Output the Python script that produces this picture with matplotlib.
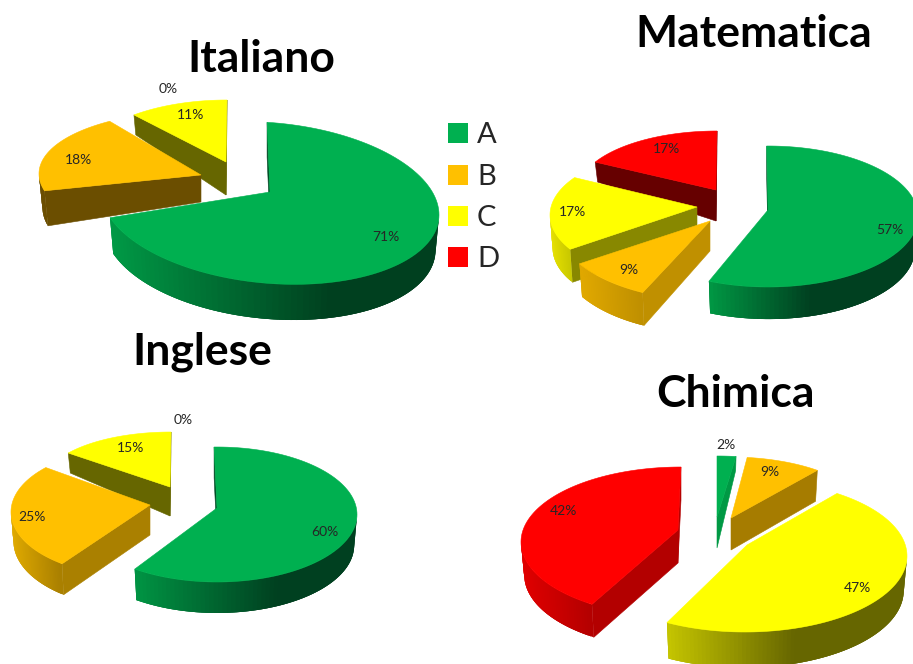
import numpy as np
import matplotlib
matplotlib.use("Agg")
import matplotlib.pyplot as plt
from matplotlib.patches import Polygon, Rectangle
from matplotlib.colors import to_rgb

categories = ["A", "B", "C", "D"]
italiano = [71, 18, 11, 0]
matematica = [57, 9, 17, 17]
inglese = [60, 25, 15, 0]
chimica = [2, 9, 47, 42]
titles = ["Italiano", "Matematica", "Inglese", "Chimica"]

colors = ["#00B050", "#FFC000", "#FFFF00", "#FF0000"]
TXT = "#262626"

# Projection style of each slice: ellipse (cx, cy, rx, ry, shear), apex, depths,
# angle tweaks, cut-face colour and wall gradient (x0, c0, x1, c1)
sty_it = {
    0: dict(e=(270, 203, 169, 80.5, .07), apex=(270, 192), d=(35, 36, 33), da=(-1, -4.4), face="#004D26", grad=(110, "#009A46", 333, "#00401F")),
    1: dict(e=(214, 179, 175, 68, .03), apex=(201, 175), d=(35, 30, 27), da=(0, 3), face="#6B4E00", grad=(40, "#6B4E00", 60, "#6B4E00")),
    2: dict(e=(227, 165, 146, 65, 0), apex=(226, 162), d=(20, 20, 33), face="#666600", grad=(134, "#666600", 140, "#666600")),
}
sty_ma = {
    0: dict(e=(768, 216.5, 150, 70.5, 0), apex=(768, 210), d=(33, 32, 30), da=(-0.5, -2), face="#004D26", grad=(709, "#009944", 813, "#004020")),
    1: dict(e=(707, 222, 151, 78, 0), apex=(710, 221), d=(33, 33, 30), face="#C09000", grad=(582, "#E0A800", 640, "#C09000")),
    2: dict(e=(680, 215, 130, 64, 0), apex=(697, 207), d=(33, 33, 33), da=(0, 7), face="#888800", grad=(550, "#E6E000", 571, "#C8C800")),
    3: dict(e=(717, 191, 139, 60, 0), apex=(716, 190), d=(20, 20, 31), face="#660000", grad=(595, "#660000", 600, "#660000")),
}
sty_in = {
    0: dict(e=(217, 514.5, 140, 67.5, 0), apex=(217, 508), d=(31, 31, 30), da=(-1.2, 0), face="#004D26", grad=(135, "#009544", 280, "#004020")),
    1: dict(e=(135, 512, 124, 64, 0), apex=(150, 505), d=(31, 28, 30), da=(0, 8), face="#AA8000", grad=(11, "#E0AA00", 60, "#AA8000")),
    2: dict(e=(171, 483, 127, 51, 0), apex=(170, 487), d=(20, 20, 29), face="#666600", grad=(68, "#666600", 80, "#666600")),
}
sty_ch = {
    0: dict(e=(717, 517, 152, 61, 0), apex=(717, 517), d=(14, 14, 31), face="#009944", grad=(717, "#009944", 736, "#009944")),
    1: dict(e=(730, 515, 137, 58, 0), apex=(731, 518), d=(31, 31, 32), face="#A67C00", grad=(730, "#A67C00", 817, "#A67C00")),
    2: dict(e=(745, 556, 162, 76, 0), apex=(747, 545), d=(34, 36, 34), da=(-5, 0), face="#666600", grad=(670, "#C4C400", 797, "#666600")),
    3: dict(e=(681, 542, 160, 75, 0), apex=(678, 530), d=(33, 33, 33), da=(5, 0), face="#B30000", grad=(523, "#E00000", 593, "#B30000")),
}

pies = [
    dict(vals=italiano, sty=sty_it, order=[2, 1, 0], title=(261, 59),
         labels=[(386, 237), (78, 160), (191, 115), (168, 89)]),
    dict(vals=matematica, sty=sty_ma, order=[3, 2, 1, 0], title=(754, 34),
         labels=[(890, 230), (629, 270), (572, 212), (666, 149)]),
    dict(vals=inglese, sty=sty_in, order=[2, 1, 0], title=(202, 352),
         labels=[(325, 532), (32, 517), (131, 448), (183, 420)]),
    dict(vals=chimica, sty=sty_ch, order=[0, 1, 3, 2], title=(735, 394),
         labels=[(726, 445), (770, 472), (857, 588), (563, 511)]),
]

BSCALE = 0.98
plt.rcParams["font.family"] = ["Lato", "DejaVu Sans"]
fig = plt.figure(figsize=(9.13, 6.64), dpi=100)
ax = fig.add_axes([0, 0, 1, 1])
ax.set_xlim(0, 913)
ax.set_ylim(664, 0)
ax.axis("off")


def poly(pts, color, z, lw=0.4):
    ax.add_patch(Polygon(pts, closed=True, facecolor=color, edgecolor=color if lw else "none",
                         linewidth=lw, zorder=z))


def draw_slice(v_start, v_end, color, s, z):
    cx, cy, rx, ry, sh = s["e"]
    da = s.get("da", (0, 0))
    t0 = np.radians(v_start * 3.6 + da[0])
    t1 = np.radians(v_end * 3.6 + da[1])
    ts = np.linspace(t0, t1, 120)
    x = cx + rx * np.sin(ts)
    y = cy - ry * np.cos(ts) + sh * rx * np.sin(ts)
    d = np.linspace(s["d"][0], s["d"][1], len(ts))
    xb = cx + (x - cx) * BSCALE
    yb = y + d
    ax0, ay0 = s["apex"]
    da_ = s["d"][2]
    mid = len(ts) // 2
    # cut faces, only where the face looks towards the viewer
    for i in (0, -1):
        ex, ey = x[i], y[i]
        dx = ex - ax0
        if abs(dx) < 1e-6:
            dx = 1e-6
        ly = ay0 + (ey - ay0) * (x[mid] - ax0) / dx
        if y[mid] < ly:
            poly([(ax0, ay0), (ex, ey), (xb[i], yb[i]), (ax0, ay0 + da_)], s["face"], z)
    # outer wall, shaded along x; quads overlap so no seams show
    gx0, c0, gx1, c1 = s["grad"]
    c0, c1 = np.array(to_rgb(c0)), np.array(to_rgb(c1))
    n = len(ts)
    for i in range(n - 1):
        if x[i + 1] < x[i]:
            j = min(i + 3, n - 1)
            f = np.clip((x[i] - gx0) / max(gx1 - gx0, 1e-6), 0, 1)
            poly([(x[i], y[i]), (x[j], y[j]), (xb[j], yb[j]), (xb[i], yb[i])],
                 tuple(c0 + (c1 - c0) * f), z + 0.1, lw=0)
    # top surface
    poly([(ax0, ay0)] + list(zip(x, y)), color, z + 0.2)


for p, title in zip(pies, titles):
    cum = np.concatenate([[0], np.cumsum(p["vals"])])
    for k, idx in enumerate(p["order"]):
        if p["vals"][idx] > 0:
            draw_slice(cum[idx], cum[idx + 1], colors[idx], p["sty"][idx], 2 + k)
    for v, (lx, ly) in zip(p["vals"], p["labels"]):
        ax.text(lx, ly, f"{v}%", ha="center", va="center", fontsize=10, color=TXT, zorder=20)
    ax.text(p["title"][0], p["title"][1], title, ha="center", va="center",
            fontsize=32, fontweight="bold", color="black", zorder=20)

# legend
for cat, col, ly in zip(categories, colors, [133, 175, 216, 257]):
    ax.add_patch(Rectangle((448, ly - 10), 20, 20, facecolor=col, edgecolor="none", zorder=20))
    ax.text(477, ly + 2, cat, ha="left", va="center", fontsize=21, color=TXT, zorder=20)

fig.savefig("out.png", dpi=100)
